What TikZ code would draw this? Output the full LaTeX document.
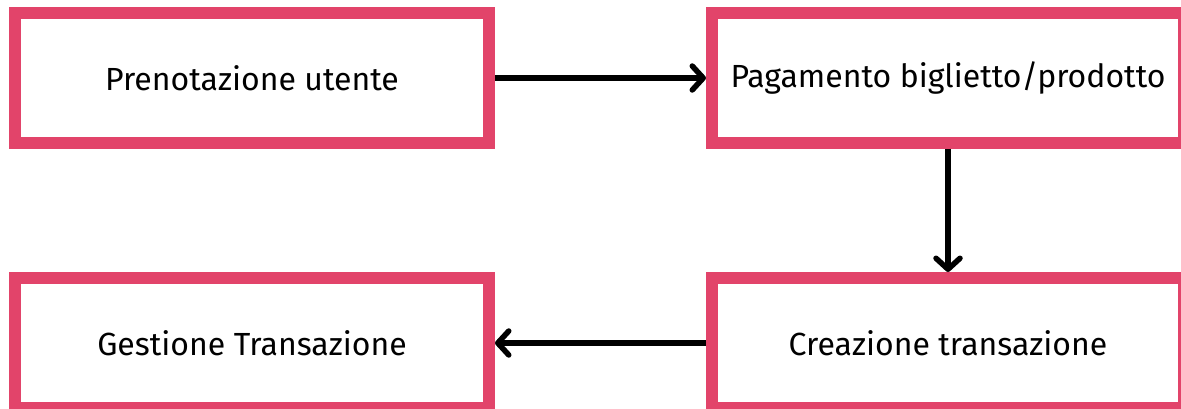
\documentclass[tikz,border=0pt]{standalone}
\usepackage{fontspec}
\setmainfont{Fira Sans}
\usetikzlibrary{arrows.meta,positioning}

\definecolor{boxpink}{RGB}{226,68,106}

\tikzset{
  stepbox/.style={draw=boxpink,line width=12pt,fill=white,
    minimum width=474pt,minimum height=130pt,
    font=\fontsize{32}{38}\selectfont,text=black},
  flow/.style={line width=5.5pt,-{Straight Barb[length=11pt,width=24pt,line cap=round,line join=round]}}
}

\begin{document}
\begin{tikzpicture}[x=1pt,y=-1pt]
\useasboundingbox (0,0) rectangle (1181,409);

\node[stepbox] (pren) at (252,78) {Prenotazione utente};
\node[stepbox,minimum width=472pt] (pag) at (948,78) {Pagamento biglietto/prodotto};
\node[stepbox,minimum width=472pt] (crea) at (948,343) {Creazione transazione};
\node[stepbox] (gest) at (252,343) {Gestione Transazione};

\draw[flow] (pren) -- (pag);
\draw[flow] (pag) -- (crea);
\draw[flow] (crea) -- (gest);

\end{tikzpicture}
\end{document}
